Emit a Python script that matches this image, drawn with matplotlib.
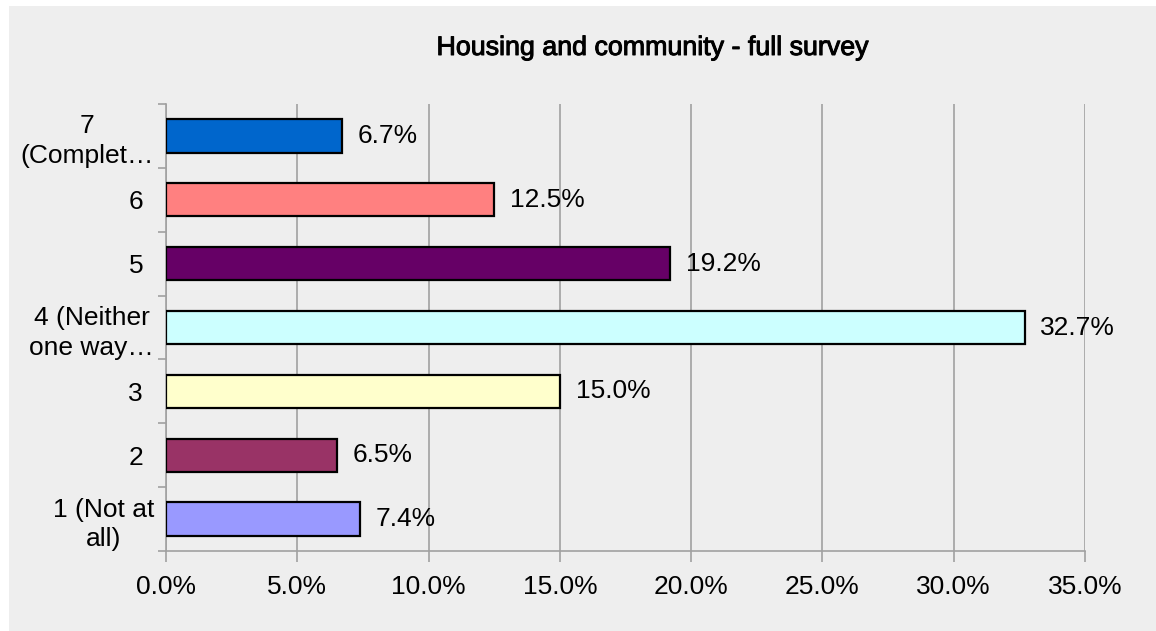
import numpy as np
import matplotlib
matplotlib.use("Agg")
import matplotlib.pyplot as plt
import matplotlib.patheffects as pe
from matplotlib.patches import Rectangle
from matplotlib.ticker import FixedLocator, FuncFormatter

# -------------------------------
# Data (bottom to top)
# -------------------------------
categories = ["1 (Not at\nall)", "2", "3", "4 (Neither\none way\u2026", "5", "6", "7\n(Complet\u2026"]
values = [7.4, 6.5, 15.0, 32.7, 19.2, 12.5, 6.7]
colors = ["#9999ff", "#993366", "#ffffcc", "#ccffff", "#660066", "#ff8080", "#0066cc"]
x_ticks = [0, 5, 10, 15, 20, 25, 30, 35]
title = "Housing and community - full survey"

plt.rcParams['font.family'] = ['Liberation Sans', 'DejaVu Sans']
bg = "#eeeeee"
grid_c = "#a0a0a0"
fs = 19

fig = plt.figure(figsize=(11.56, 6.31), dpi=100, facecolor="white")
fig.patches.append(Rectangle((9 / 1156, -0.01), 1.1, 1.01 - 6 / 631, transform=fig.transFigure,
                             facecolor=bg, edgecolor="none", zorder=-10))

ax = fig.add_axes([166 / 1156, 1 - 551 / 631, (1085 - 166) / 1156, (551 - 104) / 631])
ax.set_facecolor(bg)

y = np.arange(len(categories))
ax.barh(y, values, height=0.52, color=colors, edgecolor="black", linewidth=1.6, zorder=3)

for yi, v in zip(y, values):
    ax.text(v + 0.6, yi, f"{v:.1f}%", va="center", ha="left", fontsize=fs, color="black")

ax.set_xlim(0, 35)
ax.set_ylim(-0.5, len(categories) - 0.5)
ax.xaxis.set_major_locator(FixedLocator(x_ticks))
ax.xaxis.set_major_formatter(FuncFormatter(lambda v, p: f"{v:.1f}%"))
ax.grid(axis="x", color=grid_c, linewidth=1.2, zorder=0)
ax.set_axisbelow(True)

ax.set_yticks(y)
ax.set_yticklabels(categories, fontsize=fs, multialignment="center", linespacing=1.3)
ax.set_yticks(np.arange(-0.5, len(categories), 1), minor=True)
ax.tick_params(axis="y", which="major", length=0, pad=16.5)
ax.tick_params(axis="y", which="minor", length=6, color=grid_c, width=1.2)
ax.tick_params(axis="x", length=8, color=grid_c, width=1.2, labelsize=fs, pad=9)

# multi-line labels sit a little further right in the original
for lbl in ax.get_yticklabels():
    if "\n" in lbl.get_text():
        lbl.set_x(0.012)

for s in ["top", "right"]:
    ax.spines[s].set_visible(False)
for s in ["left", "bottom"]:
    ax.spines[s].set_color(grid_c)
    ax.spines[s].set_linewidth(1.2)

ax.text(652 / 1156, (631 - 48) / 631, title, transform=fig.transFigure, ha="center", va="center",
        fontsize=19.3, color="black",
        path_effects=[pe.withStroke(linewidth=0.7, foreground="black")])

fig.savefig("out.png", dpi=100, facecolor="white")
